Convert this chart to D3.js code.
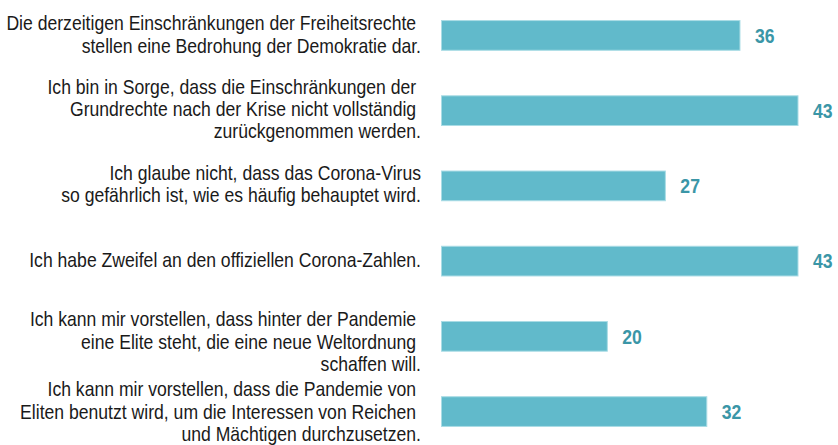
<!DOCTYPE html>
<html>
<head>
<meta charset="utf-8">
<script src="https://cdn.jsdelivr.net/npm/d3@7"></script>
<style>
  body { margin: 0; background: #fff; }
  svg { display: block; }
  .stmt { font-family: "Liberation Sans", Arial, sans-serif; font-size: 20px; fill: #1a1a1a; }
  .val { font-family: "Liberation Sans", Arial, sans-serif; font-size: 20px; font-weight: bold; fill: #3a96a7; }
</style>
</head>
<body>
<div id="chart"></div>
<script>
var width = 838, height = 445;
var narrow = 0.88; // no Arial Narrow here, so squeeze Liberation Sans

// statements, one array of lines each (trailing nbsp as in the original)
var statements = [
  ["Die derzeitigen Einschränkungen der Freiheitsrechte\u00a0", "stellen eine Bedrohung der Demokratie dar."],
  ["Ich bin in Sorge, dass die Einschränkungen der\u00a0", "Grundrechte nach der Krise nicht vollständig\u00a0", "zurückgenommen werden."],
  ["Ich glaube nicht, dass das Corona-Virus", "so gefährlich ist, wie es häufig behauptet wird."],
  ["Ich habe Zweifel an den offiziellen Corona-Zahlen."],
  ["Ich kann mir vorstellen, dass hinter der Pandemie\u00a0", "eine Elite steht, die eine neue Weltordnung\u00a0", "schaffen will."],
  ["Ich kann mir vorstellen, dass die Pandemie von\u00a0", "Eliten benutzt wird, um die Interessen von Reichen\u00a0", "und Mächtigen durchzusetzen."]
];
var values = [36, 43, 27, 43, 20, 32];

// the text blocks in the original aren't quite centred on their bars
var labelNudge = [-1, -2, -2, -1, 5, 0];

var svg = d3.select("#chart").append("svg")
  .attr("width", width)
  .attr("height", height);

var y = d3.scaleBand()
  .domain(d3.range(values.length))
  .range([-2, 449])
  .paddingInner(0.605)
  .paddingOuter(0.3);

var x = d3.scaleLinear()
  .domain([0, 43])
  .range([441.5, 798]);

var rows = svg.selectAll("g.row")
  .data(values)
  .enter()
  .append("g")
  .attr("class", "row");

rows.append("rect")
  .attr("x", x(0))
  .attr("y", (d, i) => y(i))
  .attr("width", d => x(d) - x(0))
  .attr("height", y.bandwidth())
  .attr("fill", "#61bacb")
  .attr("stroke", "#a9dce5")
  .attr("stroke-width", 1);

rows.append("text")
  .attr("class", "val")
  .attr("transform", (d, i) => "translate(" + (x(d) + 15) + "," + (y(i) + y.bandwidth() / 2) + ") scale(" + narrow + ",1)")
  .attr("dy", "0.36em")
  .text(d => d);

var lineH = 22.3;
var labels = svg.selectAll("text.stmt")
  .data(statements)
  .enter()
  .append("text")
  .attr("class", "stmt")
  .attr("text-anchor", "end")
  .attr("transform", (d, i) => "translate(421," + (y(i) + y.bandwidth() / 2 - (d.length - 1) * lineH / 2 + labelNudge[i]) + ") scale(" + narrow + ",1)");

labels.selectAll("tspan")
  .data(d => d)
  .enter()
  .append("tspan")
  .attr("x", 0)
  .attr("dy", (d, j) => j == 0 ? "0.36em" : lineH)
  .text(d => d);
</script>
</body>
</html>
